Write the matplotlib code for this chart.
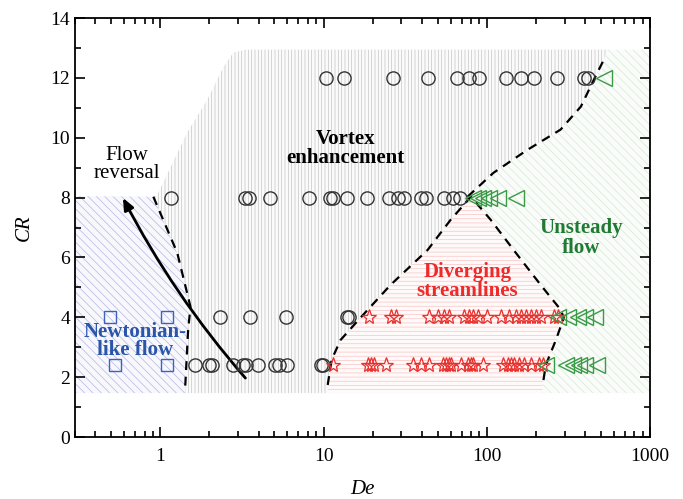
import matplotlib
matplotlib.use("Agg")
import matplotlib.pyplot as plt
from matplotlib.ticker import LogLocator, NullFormatter, MultipleLocator, FixedFormatter

plt.rcParams['font.family'] = ['Liberation Serif', 'DejaVu Serif']
plt.rcParams['hatch.linewidth'] = 0.5

# data
cr_rows = [12, 8, 4, 2.4]
circ12_de = [10.3, 13.3, 26.5, 43.5, 65.5, 77.6, 89.3, 131, 162, 194, 269, 394, 417]
circ8_de = [1.17, 3.32, 3.47, 4.67, 8.2, 11.0, 11.5, 14.0, 18.4, 25.0, 28.5, 31.0,
            39.4, 42.2, 54.5, 61.8, 68.3]
circ4_de = [2.33, 3.52, 5.85, 14.0, 14.4]
circ24_de = [1.64, 2.0, 2.08, 2.8, 3.23, 3.37, 3.99, 5.07, 5.3, 6.0, 9.6, 9.9]

sq4_de = [0.49, 1.1]
sq24_de = [0.53, 1.1]

star4_de = [18.9, 25.8, 27.7, 44.1, 50.0, 54.5, 58.5, 72.3, 77.6, 82.0, 88.1, 101,
            122, 136, 151, 162, 173, 186, 200, 214, 258, 273]
star24_de = [11.4, 18.6, 19.4, 20.3, 24.0, 35.1, 39.4, 44.1, 53.7, 56.0, 58.5, 60.1,
             69.2, 76.4, 79.7, 82.0, 94.5, 125, 135, 140, 146, 157, 169, 186, 208, 221]

tri12_de = [522]
tri8_de = [82, 88, 94.5, 103, 117, 151]
tri4_de = [273, 314, 362, 399, 460]
tri24_de = [230, 305, 337, 367, 399, 473]

# regime boundaries
newt_de = [0.906, 1.27, 1.53, 1.48, 1.42]
newt_cr = [8.03, 6.15, 4.35, 3.58, 1.67]

div_de = [10.6, 11.2, 12.7, 16.8, 25.7, 43.4, 60.1, 80, 105.6, 146, 214, 284, 296, 265, 230, 220]
div_cr = [1.74, 2.58, 3.24, 3.98, 5.08, 6.25, 7.26, 8.03, 7.26, 6.25, 5.08, 4.25, 3.98, 3.24, 2.41, 1.74]

uns_de = [76.3, 110, 178, 283, 377, 453, 514]
uns_cr = [8.03, 8.83, 9.6, 10.27, 11.04, 11.94, 12.54]

vort_edge_de = [0.958, 1.46, 1.94, 2.44, 2.8, 3.3]
vort_edge_cr = [8.09, 10.17, 11.27, 12.37, 12.84, 12.94]

arrow_start = (3.32, 1.97)
arrow_end = (0.59, 7.99)

de_min, de_max = 0.3, 1000
cr_bot, cr_top, cr_newt = 1.47, 12.94, 8.05

fig = plt.figure(figsize=(6.83, 4.99), dpi=100)
ax = fig.add_axes([0.1098, 0.1242, 0.8419, 0.8397])
ax.set_xscale('log')
ax.set_xlim(de_min, de_max)
ax.set_ylim(0, 14)

# shaded regions
blue_x = [de_min, newt_de[-1]] + newt_de[::-1] + [de_min]
blue_y = [cr_bot, cr_bot] + newt_cr[::-1] + [cr_newt]
ax.fill(blue_x, blue_y, facecolor='#f7f7fc', edgecolor='#b3b8e4', hatch='\\\\\\\\', lw=0, zorder=1)

div_left = 8  # apex index
grey_x = (newt_de[::-1][:1] + [div_de[0]] + div_de[:div_left] + uns_de + [560]
          + vort_edge_de[::-1] + newt_de)
grey_y = ([cr_bot, cr_bot] + div_cr[:div_left] + uns_cr + [cr_top]
          + vort_edge_cr[::-1] + newt_cr)
ax.fill(grey_x, grey_y, facecolor='#fbfbfb', edgecolor='#c4c4c4', hatch='|||||', lw=0, zorder=1)

red_x = [div_de[0]] + div_de + [div_de[-1]]
red_y = [cr_bot] + div_cr + [cr_bot]
ax.fill(red_x, red_y, facecolor='#fffafa', edgecolor='#f8c4c4', hatch='----', lw=0, zorder=1)

green_x = [div_de[-1]] + div_de[::-1][:div_left + 1] + uns_de + [560, de_max, de_max]
green_y = [cr_bot] + div_cr[::-1][:div_left + 1] + uns_cr + [cr_top, cr_top, cr_bot]
ax.fill(green_x, green_y, facecolor='#fafcfa', edgecolor='#d6e8d6', hatch='\\\\\\\\', lw=0, zorder=1)

# boundaries
dash = dict(color='k', lw=1.6, ls=(0, (4, 3)), zorder=3)
ax.plot(newt_de, newt_cr, **dash)
ax.plot(div_de, div_cr, **dash)
ax.plot(uns_de, uns_cr, **dash)

ax.annotate('', xy=arrow_end, xytext=arrow_start,
            arrowprops=dict(arrowstyle='-|>,head_length=0.7,head_width=0.3', lw=2, color='k',
                            shrinkA=0, shrinkB=0, connectionstyle='arc3,rad=-0.06'),
            zorder=4)

# markers
circ = dict(ls='none', marker='o', ms=9.5, mfc='none', mec='#333333', mew=1.0, zorder=5)
for de, cr in zip([circ12_de, circ8_de, circ4_de, circ24_de], cr_rows):
    ax.plot(de, [cr] * len(de), **circ)

sq = dict(ls='none', marker='s', ms=8.5, mfc='none', mec='#4062b8', mew=1.0, zorder=5)
ax.plot(sq4_de, [4] * len(sq4_de), **sq)
ax.plot(sq24_de, [2.4] * len(sq24_de), **sq)

st = dict(ls='none', marker='*', ms=11, mfc='none', mec='#e8302c', mew=0.9, zorder=5)
ax.plot(star4_de, [4] * len(star4_de), **st)
ax.plot(star24_de, [2.4] * len(star24_de), **st)

tri = dict(ls='none', marker='<', ms=11, mfc='none', mec='#3a9a45', mew=1.0, zorder=5)
for de, cr in zip([tri12_de, tri8_de, tri4_de, tri24_de], cr_rows):
    ax.plot(de, [cr] * len(de), **tri)

# labels
ax.text(0.62, 9.1, 'Flow\nreversal', ha='center', va='center', fontsize=15,
        linespacing=0.95, zorder=6)
ax.text(13.6, 9.65, 'Vortex\nenhancement', ha='center', va='center', fontsize=15,
        fontweight='bold', linespacing=0.95, zorder=6)
ax.text(76, 5.2, 'Diverging\nstreamlines', ha='center', va='center', fontsize=15,
        fontweight='bold', color='#ee2a2a', linespacing=0.95, zorder=6)
ax.text(380, 6.65, 'Unsteady\nflow', ha='center', va='center', fontsize=15,
        fontweight='bold', color='#1f7a32', linespacing=0.95, zorder=6)
ax.text(0.70, 3.22, 'Newtonian-\nlike flow', ha='center', va='center', fontsize=15,
        fontweight='bold', color='#2a55a8', linespacing=0.85, zorder=6)

ax.set_xlabel('De', fontsize=15, style='italic', labelpad=11)
ax.set_ylabel('CR', fontsize=15, style='italic', labelpad=12)

ax.set_xticks([1, 10, 100, 1000])
ax.xaxis.set_major_formatter(FixedFormatter(['1', '10', '100', '1000']))
ax.xaxis.set_minor_locator(LogLocator(base=10, subs=range(2, 10), numticks=20))
ax.xaxis.set_minor_formatter(NullFormatter())
ax.yaxis.set_major_locator(MultipleLocator(2))
ax.yaxis.set_minor_locator(MultipleLocator(1))
ax.tick_params(which='both', direction='in', top=True, right=True, labelsize=14, width=1.2)
ax.tick_params(which='major', length=7)
ax.tick_params(which='minor', length=4)
ax.tick_params(axis='x', pad=8)
for s in ax.spines.values():
    s.set_linewidth(1.3)

fig.savefig('out.png', dpi=100)
